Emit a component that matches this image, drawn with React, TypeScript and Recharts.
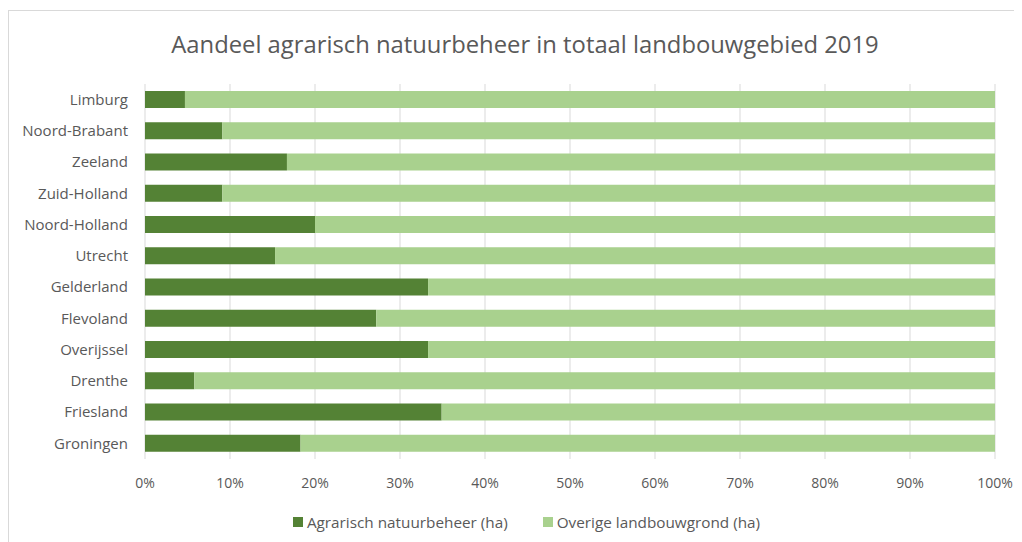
import React from "react";
import { BarChart, Bar, XAxis, YAxis, CartesianGrid } from "recharts";

const provinces = [
  "Limburg",
  "Noord-Brabant",
  "Zeeland",
  "Zuid-Holland",
  "Noord-Holland",
  "Utrecht",
  "Gelderland",
  "Flevoland",
  "Overijssel",
  "Drenthe",
  "Friesland",
  "Groningen",
];
const agrarischNatuurbeheer = [4.7, 9.1, 16.7, 9.1, 20.0, 15.3, 33.3, 27.2, 33.3, 5.8, 34.9, 18.3];
const overigeLandbouwgrond = [95.3, 90.9, 83.3, 90.9, 80.0, 84.7, 66.7, 72.8, 66.7, 94.2, 65.1, 81.7];
const xTicks = [0, 10, 20, 30, 40, 50, 60, 70, 80, 90, 100];

const seriesNames = ["Agrarisch natuurbeheer (ha)", "Overige landbouwgrond (ha)"];
const colors = ["#548235", "#a9d18e"];
const title = "Aandeel agrarisch natuurbeheer in totaal landbouwgebied 2019";

const data = provinces.map((p, i) => ({
  name: p,
  a: agrarischNatuurbeheer[i],
  b: overigeLandbouwgrond[i],
}));

const FONT = "'Open Sans', sans-serif";
const TEXT = "#595959";

export default function App() {
  return (
    <div style={{ position: "relative", width: 1014, height: 534, overflow: "hidden", fontFamily: FONT }}>
      <div
        style={{
          position: "absolute",
          left: 0,
          top: 2,
          width: 1100,
          height: 600,
          border: "1px solid #d9d9d9",
          boxSizing: "border-box",
        }}
      />
      <div
        style={{
          position: "absolute",
          left: 0,
          top: 20,
          width: 1034,
          textAlign: "center",
          fontSize: 23.8,
          color: TEXT,
          whiteSpace: "nowrap",
          lineHeight: "32px",
        }}
      >
        {title}
      </div>
      <div style={{ position: "absolute", left: 0, top: 0 }}>
        <BarChart
          width={1014}
          height={534}
          data={data}
          layout="vertical"
          margin={{ top: 76, right: 27, bottom: 53, left: 0 }}
          barSize={17}
        >
          <CartesianGrid horizontal={false} stroke="#d9d9d9" strokeWidth={1} />
          <XAxis
            type="number"
            domain={[0, 100]}
            ticks={xTicks}
            tickFormatter={(v) => `${v}%`}
            axisLine={false}
            tickLine={false}
            tick={{ fill: TEXT, fontSize: 14, fontFamily: FONT }}
            tickMargin={13}
            height={30}
            interval={0}
          />
          <YAxis
            type="category"
            dataKey="name"
            width={137}
            axisLine={false}
            tickLine={false}
            tick={{ fill: TEXT, fontSize: 15, fontFamily: FONT }}
            tickMargin={11}
            interval={0}
          />
          <Bar dataKey="a" stackId="s" fill={colors[0]} name={seriesNames[0]} isAnimationActive={false} />
          <Bar dataKey="b" stackId="s" fill={colors[1]} name={seriesNames[1]} isAnimationActive={false} />
        </BarChart>
      </div>
      <div
        style={{
          position: "absolute",
          left: 0,
          top: 503,
          width: 1037,
          display: "flex",
          justifyContent: "center",
          fontSize: 15.3,
          color: TEXT,
          lineHeight: "22px",
        }}
      >
        {seriesNames.map((n, i) => (
          <div key={n} style={{ display: "flex", alignItems: "center", marginRight: i === 0 ? 35 : 0 }}>
            <span style={{ display: "inline-block", width: 10, height: 10, background: colors[i], marginRight: 4 }} />
            <span>{n}</span>
          </div>
        ))}
      </div>
    </div>
  );
}
